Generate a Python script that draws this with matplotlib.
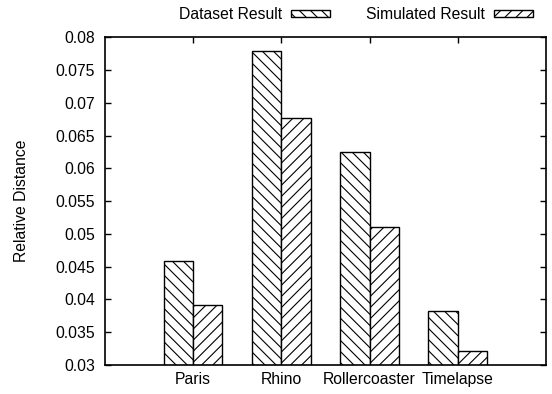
import numpy as np
import matplotlib
matplotlib.use('Agg')
import matplotlib.pyplot as plt

categories = ['Paris', 'Rhino', 'Rollercoaster', 'Timelapse']
dataset_result = [0.0458, 0.0779, 0.0625, 0.0383]
simulated_result = [0.0392, 0.0677, 0.0510, 0.0321]
yticks = [0.03, 0.035, 0.04, 0.045, 0.05, 0.055, 0.06, 0.065, 0.07, 0.075, 0.08]
ytick_labels = ['0.03', '0.035', '0.04', '0.045', '0.05', '0.055', '0.06',
                '0.065', '0.07', '0.075', '0.08']

plt.rcParams['font.family'] = ['Liberation Sans', 'DejaVu Sans']
plt.rcParams['hatch.linewidth'] = 0.8
fs = 11.3

fig = plt.figure(figsize=(5.52, 3.94), dpi=100)
ax = fig.add_axes([0.190, 0.0736, 0.799, 0.832])

x = np.arange(1, len(categories) + 1)
w = 1 / 3
ax.bar(x - w / 2, dataset_result, width=w, bottom=0, color='white',
       edgecolor='black', linewidth=1, hatch='\\\\\\', label='Dataset Result')
ax.bar(x + w / 2, simulated_result, width=w, bottom=0, color='white',
       edgecolor='black', linewidth=1, hatch='///', label='Simulated Result')

ax.set_xlim(0, 5)
ax.set_ylim(0.03, 0.08)
ax.set_xticks(x)
ax.set_xticklabels(categories, fontsize=fs)
ax.set_yticks(yticks)
ax.set_yticklabels(ytick_labels, fontsize=fs)
ax.tick_params(direction='in', top=True, right=True, length=4, width=1, pad=7)
ax.tick_params(axis='x', bottom=False, pad=5)
for s in ax.spines.values():
    s.set_linewidth(1.2)

ax.set_ylabel('Relative Distance', fontsize=fs)
ax.yaxis.set_label_coords(-0.172, 0.5)

leg = fig.legend(loc='center right', bbox_to_anchor=(0.966, 0.963), ncol=2,
                 frameon=False, markerfirst=False, fontsize=fs,
                 handlelength=2.5, handleheight=0.35, columnspacing=2.3,
                 handletextpad=0.55, borderpad=0, borderaxespad=0)

fig.savefig('out.png', dpi=100)
